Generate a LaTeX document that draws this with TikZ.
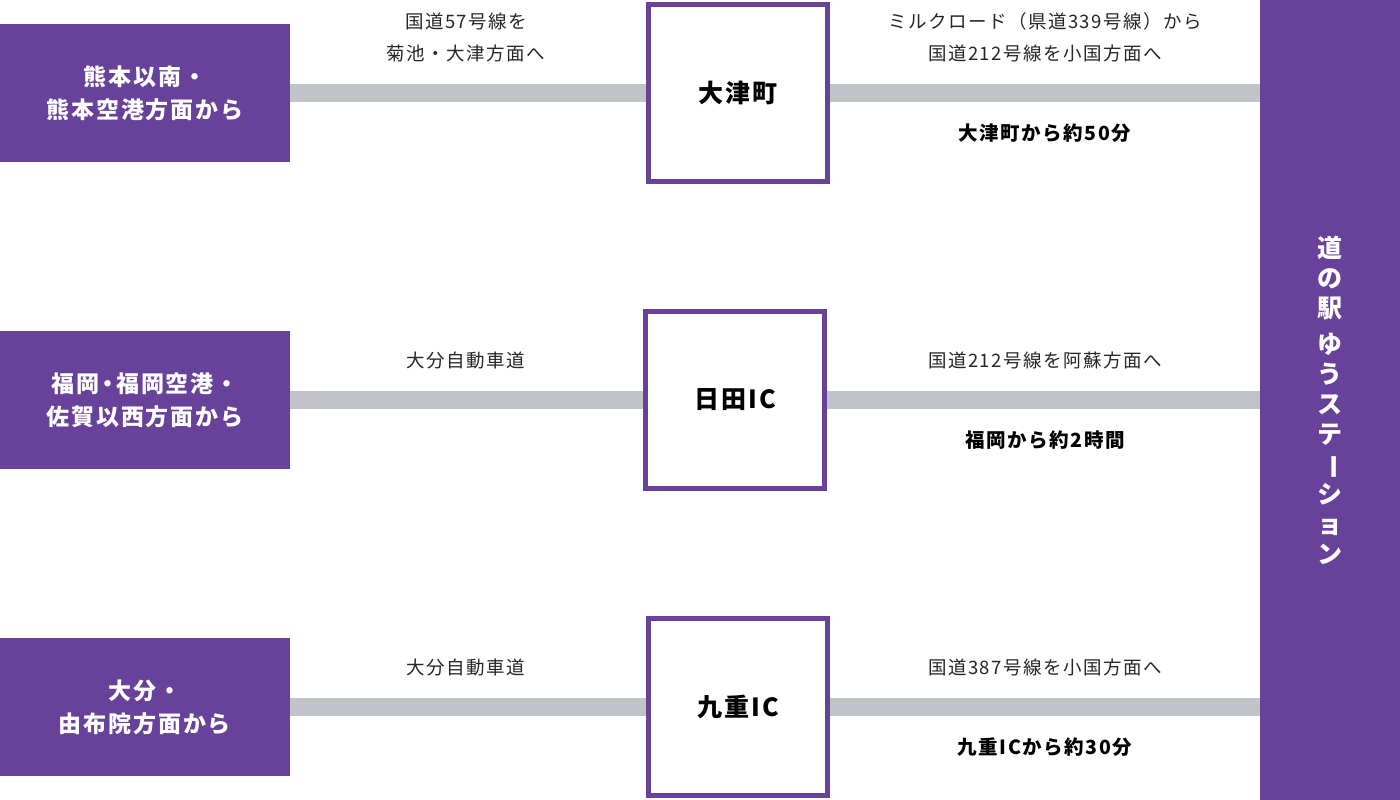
\documentclass[tikz,border=0pt]{standalone}
\usepackage{fontspec}
\setmainfont{Noto Sans CJK JP}
\newfontfamily\spc[LetterSpace=8]{Noto Sans CJK JP}
\begin{document}
\begin{tikzpicture}[x=1pt,y=-1pt,
  src/.style={fill=pu,text=white,font=\spc\bfseries\fontsize{23}{33}\selectfont,align=center,inner sep=0},
  hub/.style={draw=pu,line width=5pt,fill=white,minimum width=179pt,minimum height=177pt,font=\spc\bfseries\fontsize{25}{28}\selectfont,inner sep=0},
  lbl/.style={font=\spc\fontsize{18.5}{32}\selectfont,align=center,text=black!85},
  blbl/.style={font=\spc\bfseries\fontsize{19.5}{22}\selectfont,text=black},
  road/.style={draw=rd,line width=18pt}]
\definecolor{pu}{HTML}{67419A}
\definecolor{rd}{HTML}{C0C4C8}
\useasboundingbox (0,0) rectangle (1400,800);
\node[fill=pu,minimum width=140pt,minimum height=800pt,inner sep=0] (dest) at (1330,400) {};
\foreach \y/\t/\hx/\n in {
  93/{熊本以南・\\熊本空港方面から}/738/a,
  400/{福岡\kern-3pt・\kern-3pt福岡空港・\\佐賀以西方面から}/735/b,
  707/{大分・\\由布院方面から}/738/c}{
  \node[src,minimum width=290pt,minimum height=138pt] (s\n) at (145,\y) {\t};
  \coordinate (e\n) at (1260,\y);
  \coordinate (h\n) at (\hx,\y);
  \draw[road] (s\n.east) -- (h\n);
  \draw[road] (h\n) -- (e\n);
}
\node[hub] (ha) at (738,93) {大津町};
\node[hub] (hb) at (735,400) {日田IC};
\node[hub] (hc) at (738,707) {九重IC};
\node[lbl] (la1) at (466,37) {国道57号線を\\菊池・大津方面へ};
\node[lbl] (lb1) at (1045,37) {ミルクロード（県道339号線）から\\国道212号線を小国方面へ};
\node[blbl] (lc1) at (1045,133) {大津町から約50分};
\node[lbl] (la2) at (466,360) {大分自動車道};
\node[lbl] (lb2) at (1045,360) {国道212号線を阿蘇方面へ};
\node[blbl] (lc2) at (1045,440) {福岡から約2時間};
\node[lbl] (la3) at (466,667) {大分自動車道};
\node[lbl] (lb3) at (1045,667) {国道387号線を小国方面へ};
\node[blbl] (lc3) at (1045,747) {九重ICから約30分};
\node[text=white,font=\bfseries\fontsize{25}{30}\selectfont,align=center,inner sep=0] (vt) at (1330,400)
 {道\\の\\駅\\[6pt]ゆ\\う\\ス\\テ\\\rotatebox[origin=c]{-90}{ー}\\シ\\ョ\\ン};
\end{tikzpicture}
\end{document}
